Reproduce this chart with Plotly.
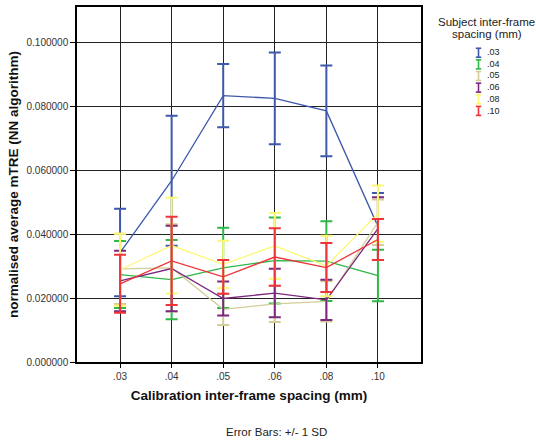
import plotly.graph_objects as go

# Calibration spacing categories (x axis)
categories = [".03", ".04", ".05", ".06", ".08", ".10"]

# Subject inter-frame spacing groups
groups = [".03", ".04", ".05", ".06", ".08", ".10"]
colors = ["#3E58AC", "#2EB848", "#D3CE97", "#7C287D", "#FBF873", "#EF3338"]

# Mean normalised mTRE per group
mean_03 = [0.0343, 0.0568, 0.0835, 0.0826, 0.0787, 0.0425]
mean_04 = [0.0274, 0.0258, 0.0295, 0.0318, 0.0316, 0.0271]
mean_05 = [0.0292, 0.0295, 0.0165, 0.0182, 0.0190, 0.0438]
mean_06 = [0.0254, 0.0293, 0.0199, 0.0216, 0.0195, 0.0418]
mean_08 = [0.0289, 0.0365, 0.0306, 0.0364, 0.0301, 0.0465]
mean_10 = [0.0245, 0.0317, 0.0267, 0.0329, 0.0296, 0.0384]

# Standard deviations (error bars: +/- 1 SD)
sd_03 = [0.0137, 0.0204, 0.0099, 0.0144, 0.0142, 0.0105]
sd_04 = [0.0105, 0.0124, 0.0126, 0.0135, 0.0125, 0.0081]
sd_05 = [0.0110, 0.0137, 0.0049, 0.0057, 0.0063, 0.0071]
sd_06 = [0.0095, 0.0134, 0.0053, 0.0076, 0.0063, 0.0098]
sd_08 = [0.0113, 0.0150, 0.0074, 0.0103, 0.0095, 0.0088]
sd_10 = [0.0091, 0.0138, 0.0053, 0.0090, 0.0077, 0.0064]

y_ticks = [0.0, 0.02, 0.04, 0.06, 0.08, 0.10]

means = [mean_03, mean_04, mean_05, mean_06, mean_08, mean_10]
sds = [sd_03, sd_04, sd_05, sd_06, sd_08, sd_10]

W, H = 536, 443
ML, MR, MT, MB = 77, 115, 5, 81
PW, PH = W - ML - MR, H - MT - MB

FONT = "Liberation Sans, Arial, sans-serif"

fig = go.Figure()
for name, col, m, s in zip(groups, colors, means, sds):
    fig.add_trace(go.Scatter(
        x=categories, y=m, mode="lines", name=name,
        line=dict(color=col, width=1.3),
        error_y=dict(type="data", array=s, visible=True,
                     color=col, thickness=2, width=6),
        showlegend=False,
    ))


def px_to_paper(px, py):
    return (px - ML) / PW, (H - MB - py) / PH


annotations = []
shapes = []

# Legend title (two tightly spaced lines)
for txt, py in [("Subject inter-frame", 20.5), ("spacing (mm)", 32.2)]:
    tx, ty = px_to_paper(487, py)
    annotations.append(dict(x=tx, y=ty, xref="paper", yref="paper",
                            text=txt, showarrow=False, xanchor="center",
                            yanchor="middle",
                            font=dict(family=FONT, size=11.5, color="#222")))

# Legend entries: error-bar glyphs drawn as small I-shapes
LABEL_SIZE = 9
ROW0, ROW_STEP = 51, 1.3 * LABEL_SIZE
for i, col in enumerate(colors):
    cy = ROW0 + i * ROW_STEP
    cx = 478.5
    x0, y0 = px_to_paper(cx, cy - 4.5)
    x1, y1 = px_to_paper(cx, cy + 4.5)
    xl, _ = px_to_paper(cx - 2.7, cy)
    xr, _ = px_to_paper(cx + 2.7, cy)
    ln = dict(color=col, width=1.6)
    shapes.append(dict(type="line", xref="paper", yref="paper",
                       x0=x0, x1=x1, y0=y0, y1=y1, line=ln))
    shapes.append(dict(type="line", xref="paper", yref="paper",
                       x0=xl, x1=xr, y0=y0, y1=y0, line=ln))
    shapes.append(dict(type="line", xref="paper", yref="paper",
                       x0=xl, x1=xr, y0=y1, y1=y1, line=ln))

lx, ly = px_to_paper(484.5, ROW0 + 2.5 * ROW_STEP)
annotations.append(dict(x=lx, y=ly, xref="paper", yref="paper",
                        text="<br>".join(groups), showarrow=False,
                        xanchor="left", yanchor="middle", align="left",
                        font=dict(family=FONT, size=LABEL_SIZE, color="#222")))

# Footnote
fx, fy = px_to_paper(276, 432)
annotations.append(dict(x=fx, y=fy, xref="paper", yref="paper",
                        text="Error Bars: +/- 1 SD", showarrow=False,
                        xanchor="center", yanchor="middle",
                        font=dict(family=FONT, size=11.5, color="#222")))

fig.update_layout(
    width=W, height=H,
    margin=dict(l=ML, r=MR, t=MT, b=MB),
    paper_bgcolor="white", plot_bgcolor="white",
    font=dict(family=FONT, color="#333"),
    annotations=annotations,
    shapes=shapes,
    xaxis=dict(
        type="category", range=[-0.835, 5.835],
        showgrid=True, gridcolor="#222", gridwidth=1,
        showline=True, linecolor="black", linewidth=1.5, mirror=True,
        ticks="outside", ticklen=4, tickcolor="black",
        tickfont=dict(size=10, color="#333"),
        title=dict(text="<b>Calibration inter-frame spacing (mm)</b>",
                   font=dict(size=13.5, color="#111"), standoff=10),
    ),
    yaxis=dict(
        range=[0, 0.11125], tickvals=y_ticks, tickformat=".6f",
        showgrid=True, gridcolor="#222", gridwidth=1,
        showline=True, linecolor="black", linewidth=1.5, mirror=True,
        ticks="outside", ticklen=5, tickcolor="black",
        tickfont=dict(size=10, color="#333"), zeroline=False,
        title=dict(text="<b>normalised average mTRE (NN algorithm)</b>",
                   font=dict(size=13.5, color="#111"), standoff=5),
    ),
)

fig.write_html("out.html")
